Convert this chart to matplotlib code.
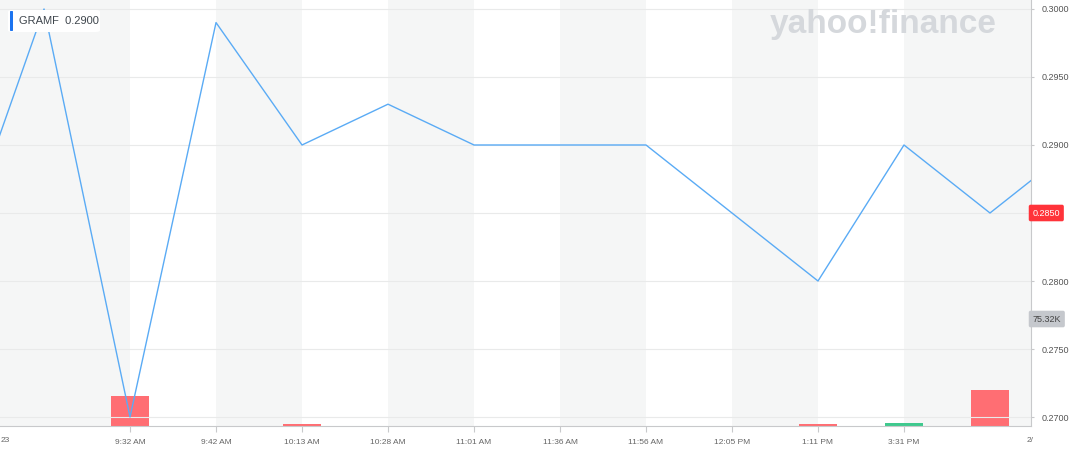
import matplotlib
matplotlib.use("Agg")
import matplotlib.pyplot as plt
from matplotlib.patches import FancyBboxPatch

# =========================
# Data
# =========================
ticker = "GRAMF"
last_quote = 0.2900
last_price_tag = 0.2850
volume_tag = "75.32K"

idx = list(range(14))
prices = [0.2820, 0.3000, 0.2700, 0.2990, 0.2900, 0.2930, 0.2900,
          0.2900, 0.2900, 0.2850, 0.2800, 0.2900, 0.2850, 0.2900]
volumes = [0, 0, 62800, 0, 4500, 0, 0, 0, 0, 0, 4500, 6500, 75320, 0]
vol_up = [False, False, False, False, False, False, False,
          False, False, False, False, True, False, False]

tick_pos = [2, 3, 4, 5, 6, 7, 8, 9, 10, 11]
tick_labels = ["9:32 AM", "9:42 AM", "10:13 AM", "10:28 AM", "11:01 AM",
               "11:36 AM", "11:56 AM", "12:05 PM", "1:11 PM", "3:31 PM"]
y_ticks = [0.2700, 0.2750, 0.2800, 0.2850, 0.2900, 0.2950, 0.3000]

# =========================
# Plot
# =========================
plt.rcParams['font.family'] = ['Liberation Sans', 'DejaVu Sans']

fig = plt.figure(figsize=(10.72, 4.57), dpi=100)
ax = fig.add_axes([0, 31 / 457, 1031 / 1072, 426 / 457])
x_lo, x_hi = 0.488, 12.477
ax.set_xlim(x_lo, x_hi)
ax.set_ylim(0.26934, 0.30066)

# volume axis sits underneath the price axis
vax = ax.twinx()
vax.set_ylim(0, 75320 * 426 / 36)
vax.set_yticks([])
for s in vax.spines.values():
    s.set_visible(False)
ax.set_zorder(vax.get_zorder() + 1)
ax.patch.set_visible(False)
vax.patch.set_facecolor('white')

# alternating bands
band_edges = [x_lo] + tick_pos + [x_hi]
for k in range(0, len(band_edges) - 1, 2):
    vax.axvspan(band_edges[k], band_edges[k + 1], color='#f5f6f6', lw=0, zorder=0)

bar_colors = ['#3fc98e' if u else '#ff6e73' for u in vol_up]
vax.bar(idx, volumes, width=0.44, color=bar_colors, lw=0, zorder=2)

for yv in y_ticks:
    ax.axhline(yv, color='#e9eaea', lw=0.8, zorder=1)

ax.plot(idx, prices, color='#5aabf5', lw=1.0, zorder=3)

# axes styling
for name in ['top', 'left']:
    ax.spines[name].set_visible(False)
ax.spines['bottom'].set_color('#c8c9cb')
ax.spines['right'].set_color('#c8c9cb')
ax.yaxis.tick_right()
ax.set_yticks(y_ticks)
# the 0.2850 label sits under the red last-price tag
ax.set_yticklabels(["" if v == last_price_tag else f"{v:.4f}" for v in y_ticks])
ax.tick_params(axis='y', length=2, color='#c8c9cb', labelsize=6.5,
               labelcolor='#555555', pad=6)
ax.set_xticks(tick_pos)
ax.set_xticklabels(tick_labels)
ax.tick_params(axis='x', length=4, color='#c8c9cb', labelsize=6,
               labelcolor='#666666', pad=5)

# date labels at the ends
fig.text(1 / 1072, 1 - 440 / 457, "23", ha='left', va='center',
         fontsize=6, color='#666666')
fig.text(1027 / 1072, 1 - 440 / 457, "2/", ha='left', va='center',
         fontsize=6, color='#666666')

# price / volume tags on the right
ax.text(1.0015, last_price_tag, f"{last_price_tag:.4f}", transform=ax.get_yaxis_transform(),
        ha='left', va='center', fontsize=6.5, color='white', zorder=10,
        bbox=dict(boxstyle='round,pad=0.42,rounding_size=0.2', fc='#ff333a', ec='none'))
ax.text(1.0015, 0.2800 - 38 / 68 * 0.005, volume_tag, transform=ax.get_yaxis_transform(),
        ha='left', va='center', fontsize=6.5, color='#444444', zorder=10,
        bbox=dict(boxstyle='round,pad=0.42,rounding_size=0.2', fc='#c5c8cd', ec='none'))

# ticker box top-left
fig.patches.append(FancyBboxPatch((8 / 1072, 1 - 32 / 457), 92 / 1072, 22 / 457,
                                  boxstyle='round,pad=0,rounding_size=0.004',
                                  transform=fig.transFigure, fc='white', ec='none', zorder=5))
fig.patches.append(FancyBboxPatch((10 / 1072, 1 - 31 / 457), 3 / 1072, 20 / 457,
                                  boxstyle='round,pad=0,rounding_size=0.001',
                                  transform=fig.transFigure, fc='#1c74f0', ec='none', zorder=6))
fig.text(19 / 1072, 1 - 20.5 / 457, f"{ticker}  {last_quote:.4f}", ha='left', va='center',
         fontsize=8, color='#3f464d', zorder=7)

# watermark
fig.text(883 / 1072, 1 - 24 / 457, "yahoo!finance", ha='center', va='center',
         fontsize=24, fontweight='bold', color='#d5d8dc')

fig.savefig("out.png", dpi=100)
